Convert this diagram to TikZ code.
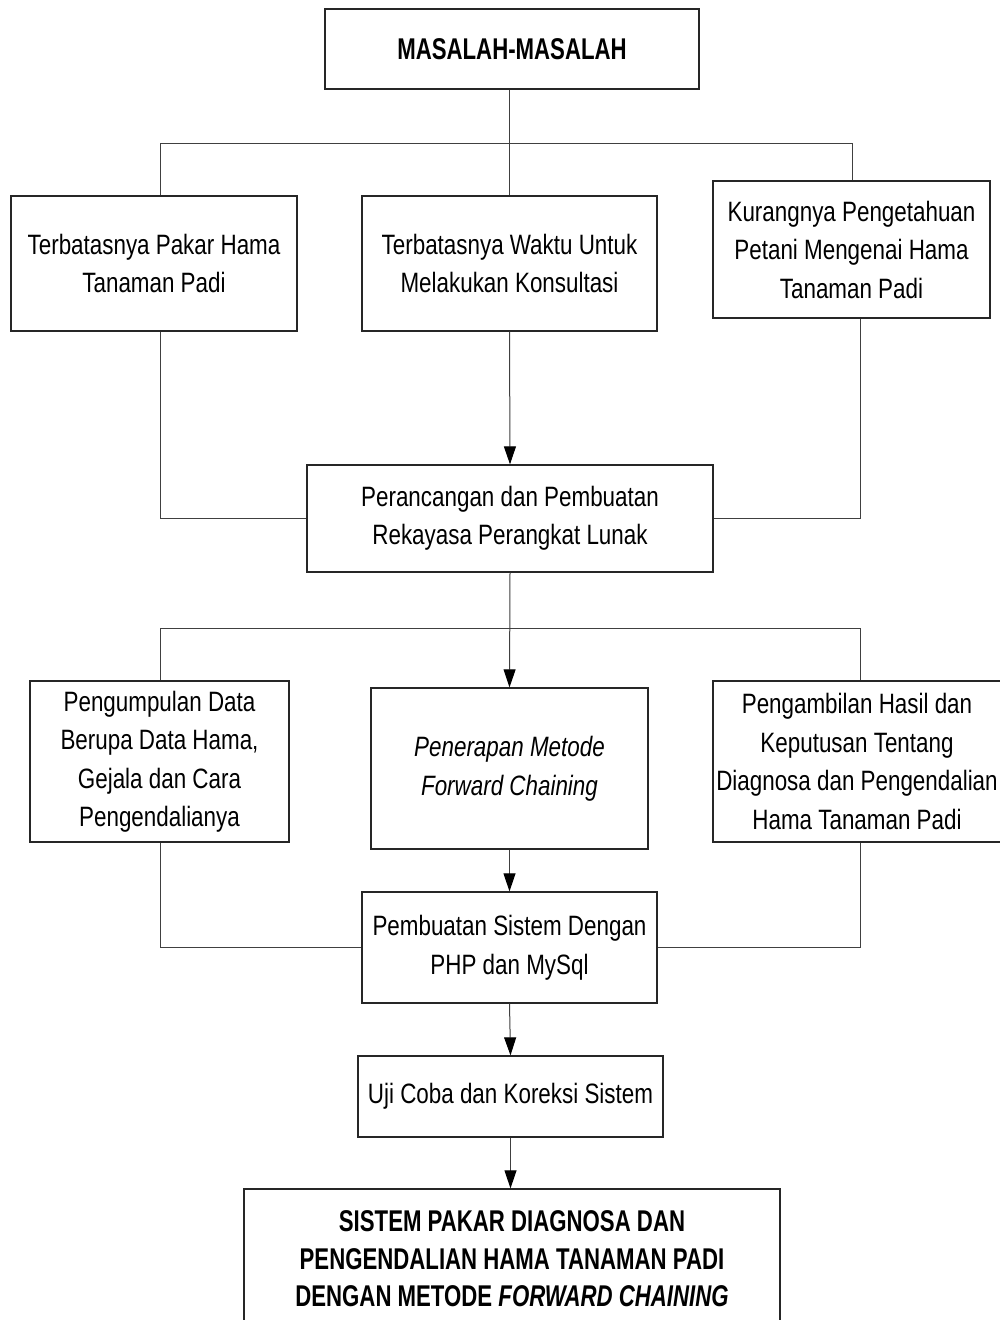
\documentclass[tikz,border=0pt]{standalone}
\usepackage{fontspec}
\setmainfont{Liberation Sans}[FakeStretch=0.80]
\newfontfamily\boldcond{Liberation Sans}[FakeStretch=0.74]
\usetikzlibrary{arrows.meta}
\begin{document}
\begin{tikzpicture}[x=1pt,y=-1pt,
  box/.style={draw=black!85, line width=1.3pt, align=center, inner sep=0pt,
    font=\fontsize{28}{38.5}\selectfont},
  ttl/.style={box, font=\boldcond\bfseries\fontsize{30}{37.5}\selectfont},
  conn/.style={draw=black!75, line width=1pt},
  arr/.style={conn, -{Triangle[length=18pt,width=12pt,color=black]}}]
\useasboundingbox (0,0) rectangle (1000,1320);
\fill[white] (0,0) rectangle (1000,1320);
% boxes
\node[ttl, minimum width=374pt, minimum height=80pt] (top) at (512,49) {MASALAH-MASALAH};
\node[box, minimum width=286pt, minimum height=135pt] (b1) at (154,263.5) {Terbatasnya Pakar Hama\\Tanaman Padi};
\node[box, minimum width=295pt, minimum height=135pt] (b2) at (509.5,263.5) {Terbatasnya Waktu Untuk\\Melakukan Konsultasi};
\node[box, minimum width=277pt, minimum height=137pt] (b3) at (851.5,249.5) {Kurangnya Pengetahuan\\Petani Mengenai Hama\\Tanaman Padi};
\node[box, minimum width=406pt, minimum height=107pt] (b4) at (510,518.5) {Perancangan dan Pembuatan\\Rekayasa Perangkat Lunak};
\node[box, minimum width=259pt, minimum height=161pt] (b5) at (159.5,761.5) {Pengumpulan Data\\Berupa Data Hama,\\Gejala dan Cara\\Pengendalianya};
\node[box, minimum width=277pt, minimum height=161pt] (b6) at (509.5,768.5) {\itshape Penerapan Metode\\\itshape Forward Chaining};
\node[box, minimum width=288pt, minimum height=161pt] (b7) at (857,761.5) {Pengambilan Hasil dan\\Keputusan Tentang\\Diagnosa dan Pengendalian\\Hama Tanaman Padi};
\node[box, minimum width=295pt, minimum height=111pt] (b8) at (509.5,947.5) {Pembuatan Sistem Dengan\\PHP dan MySql};
\node[box, minimum width=305pt, minimum height=81pt] (b9) at (510.5,1096.5) {Uji Coba dan Koreksi Sistem};
\node[ttl, minimum width=536pt, minimum height=140pt] (b10) at (512,1259) {SISTEM PAKAR DIAGNOSA DAN\\PENGENDALIAN HAMA TANAMAN PADI\\DENGAN METODE \itshape FORWARD CHAINING};
% junction coordinates
\coordinate (jl) at (160,143);
\coordinate (jr) at (852,143);
\coordinate (kl) at (160,628);
\coordinate (kr) at (860,628);
\coordinate (ml) at (160,519);
\coordinate (mr) at (860,519);
% connectors
\draw[conn] (top.south -| b2.north) -- (b2.north);
\draw[conn] (b1.north -| jl) -- (jl) -- (jr) -- (b3.north -| jr);
\draw[arr] (b2.south) -- (b4.north);
\draw[conn] (b1.south -| ml) |- (b4.west);
\draw[conn] (b3.south -| mr) |- (b4.east);
\draw[arr] (b4.south) -- (b6.north);
\draw[conn] (b5.north -| kl) -- (kl) -- (kr) -- (b7.north -| kr);
\draw[arr] (b6.south) -- (b8.north);
\draw[conn] (b5.south -| kl) |- (b8.west);
\draw[conn] (b7.south -| kr) |- (b8.east);
\draw[arr] (b8.south) -- (b9.north);
\draw[arr] (b9.south) -- (b10.north -| b9.south);
\end{tikzpicture}
\end{document}
